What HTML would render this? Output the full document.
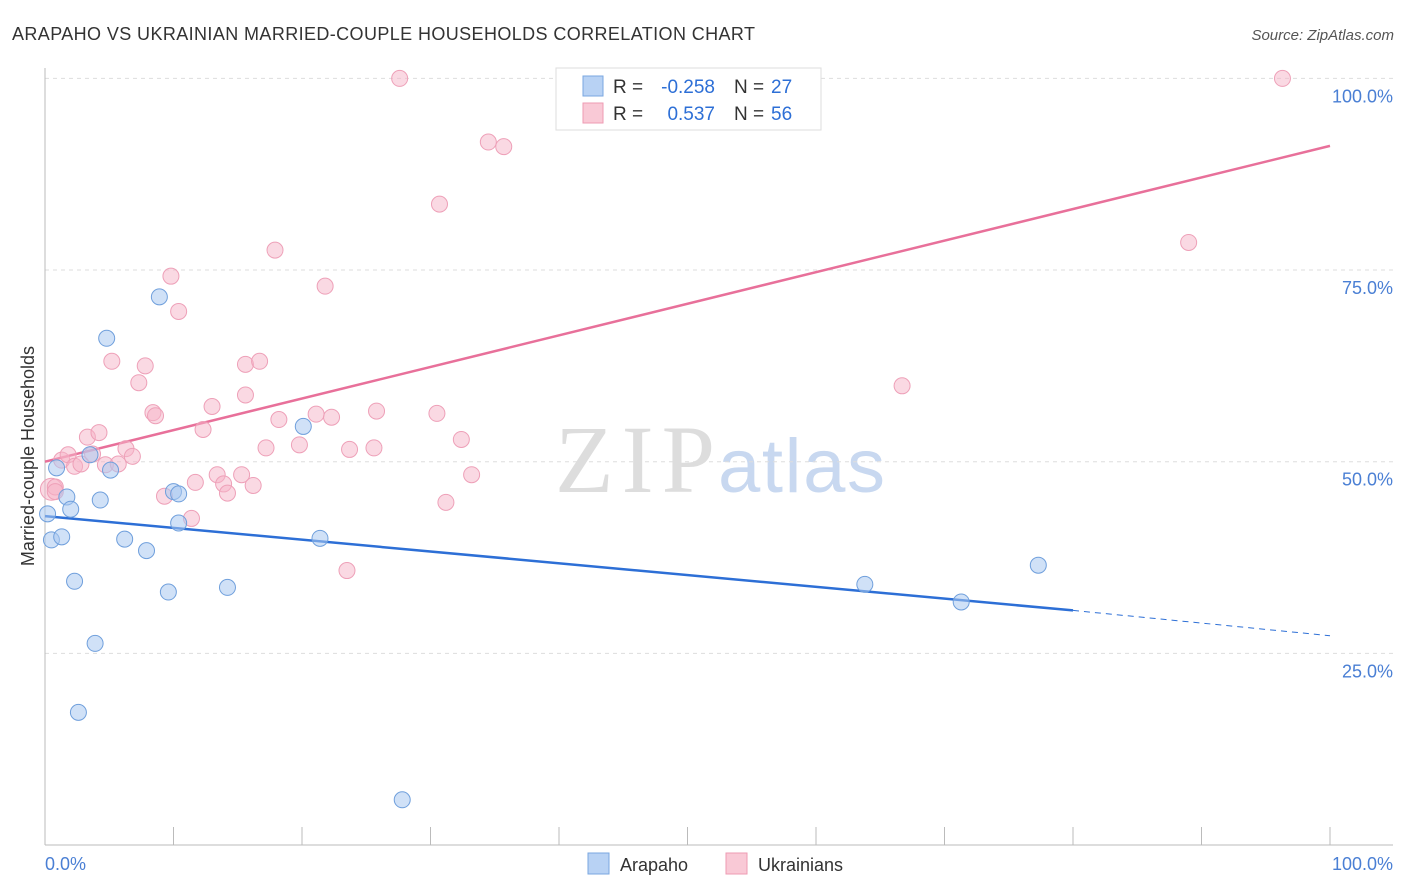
<!DOCTYPE html>
<html><head><meta charset="utf-8"><style>
body{margin:0;background:#fff;font-family:"Liberation Sans",sans-serif}
svg{display:block}
</style></head><body>
<svg width="1406" height="892">
<text x="12" y="40" font-size="18" fill="#333" textLength="743">ARAPAHO VS UKRAINIAN MARRIED-COUPLE HOUSEHOLDS CORRELATION CHART</text>
<text x="1394" y="40" font-size="15" fill="#555" font-style="italic" text-anchor="end">Source: ZipAtlas.com</text>
<text x="555" y="492" font-size="96" fill="#ddd" textLength="160" font-family="Liberation Serif">ZIP</text>
<text x="718" y="492" font-size="76" fill="#c8d8f0" textLength="167">atlas</text>
<g id="grid"></g>
<g id="axes"></g>
<text transform="translate(34,456) rotate(-90)" font-size="18" fill="#333" text-anchor="middle">Married-couple Households</text>
<text x="45" y="870" font-size="18" fill="#4a7fd4">0.0%</text>
<text x="1393" y="870" font-size="18" fill="#4a7fd4" text-anchor="end">100.0%</text>
<g id="trend"></g>
<g id="pts"></g>
<g>
<rect x="556" y="68" width="265" height="62" fill="#fff" stroke="#ddd"/>
<rect x="583" y="76" width="20" height="20" fill="#b8d2f4" stroke="#7aa7e0"/>
<rect x="583" y="103" width="20" height="20" fill="#f9c9d6" stroke="#ee9bb3"/>
<text x="613" y="93" font-size="19" fill="#333">R =</text>
<text x="715" y="93" font-size="19" fill="#2d6fd6" text-anchor="end">-0.258</text>
<text x="734" y="93" font-size="19" fill="#333">N =</text>
<text x="771" y="93" font-size="19" fill="#2d6fd6">27</text>
<text x="613" y="120" font-size="19" fill="#333">R =</text>
<text x="715" y="120" font-size="19" fill="#2d6fd6" text-anchor="end">0.537</text>
<text x="734" y="120" font-size="19" fill="#333">N =</text>
<text x="771" y="120" font-size="19" fill="#2d6fd6">56</text>
</g>
<g>
<rect x="588" y="853" width="21" height="21" fill="#b8d2f4" stroke="#7aa7e0"/>
<text x="620" y="871" font-size="18" fill="#333">Arapaho</text>
<rect x="726" y="853" width="21" height="21" fill="#f9c9d6" stroke="#ee9bb3"/>
<text x="758" y="871" font-size="18" fill="#333">Ukrainians</text>
</g>
</svg>
<script>
const yTicks=[25,50,75,100];
const blueX=[0.2,0.5,0.9,1.3,1.7,2.0,2.3,2.6,3.5,3.9,4.3,4.8,5.1,6.2,7.9,8.9,9.6,10.0,10.4,10.4,14.2,20.1,21.4,27.8,63.8,71.3,77.3];
const blueY=[43.2,39.8,49.2,40.2,45.4,43.8,34.4,17.3,50.9,26.3,45.0,66.1,48.9,39.9,38.4,71.5,33.0,46.1,45.8,42.0,33.6,54.6,40.0,5.9,34.0,31.7,36.5];
const pinkX=[0.5,0.8,1.3,1.8,2.3,2.8,3.3,3.7,4.2,4.7,5.2,5.7,6.3,6.8,7.3,7.8,8.4,8.6,9.3,9.8,10.4,11.4,11.7,12.3,13.0,13.4,13.9,14.2,15.3,15.6,16.2,15.6,16.7,17.2,17.9,18.2,19.8,21.1,21.8,22.3,23.5,23.7,25.6,25.8,27.6,30.5,30.7,31.2,32.4,33.2,34.5,35.7,66.7,89.0,96.3,0.8];
const pinkY=[46.4,46.7,50.2,50.9,49.4,49.7,53.2,51.0,53.8,49.6,63.1,49.7,51.7,50.7,60.3,62.5,56.4,56.0,45.5,74.2,69.6,42.6,47.3,54.2,57.2,48.3,47.1,45.9,48.3,62.7,46.9,58.7,63.1,51.8,77.6,55.5,52.2,56.2,72.9,55.8,35.8,51.6,51.8,56.6,100,56.3,83.6,44.7,52.9,48.3,91.7,91.1,59.9,78.6,100,46.1];
const blueTrend=[42.9,30.6,27.3]; // at x=0, 80, 100
const pinkTrend=[50.0,91.2]; // at x=0, 100
const X=v=>45+v*12.85, Y=v=>845-v*7.666;
const NS='http://www.w3.org/2000/svg';
function mk(t,a,p){const e=document.createElementNS(NS,t);for(const k in a)e.setAttribute(k,a[k]);p.appendChild(e);return e;}
const grid=document.getElementById('grid'),axes=document.getElementById('axes');
yTicks.forEach(t=>{
 const l=mk('line',{x1:45,x2:1393,y1:Y(t),y2:Y(t),stroke:'#ddd','stroke-dasharray':'4,4'},grid);
 
 
 const tx=mk('text',{x:1393,y:Y(t)+24,'font-size':18,fill:'#4a7fd4','text-anchor':'end'},grid);
 tx.textContent=t.toFixed(1)+'%';
 
 
});
mk('line',{x1:45,x2:45,y1:68,y2:845,stroke:'#bbb'},axes);
mk('line',{x1:45,x2:1393,y1:845,y2:845,stroke:'#bbb'},axes);
for(let i=1;i<=10;i++){mk('line',{x1:X(i*10),x2:X(i*10),y1:827,y2:845,stroke:'#bbb'},axes);}
const tr=document.getElementById('trend');
let a=mk('line',{x1:X(0),y1:Y(blueTrend[0]),x2:X(80),y2:Y(blueTrend[1]),stroke:'#2d6fd6','stroke-width':2.5},tr);


a=mk('line',{x1:X(80),y1:Y(blueTrend[1]),x2:X(100),y2:Y(blueTrend[2]),stroke:'#2d6fd6','stroke-width':1,'stroke-dasharray':'6,5'},tr);


a=mk('line',{x1:X(0),y1:Y(pinkTrend[0]),x2:X(100),y2:Y(pinkTrend[1]),stroke:'#e8709a','stroke-width':2.5},tr);


const pts=document.getElementById('pts');
pinkX.forEach((x,i)=>{
 const c=mk('circle',{cx:X(x),cy:Y(pinkY[i]),r:i===0?11:8,fill:'rgba(246,180,200,0.5)',stroke:'#eea0b8','stroke-width':1},pts);
 
 
});
blueX.forEach((x,i)=>{
 const c=mk('circle',{cx:X(x),cy:Y(blueY[i]),r:8,fill:'rgba(170,200,240,0.55)',stroke:'#6f9fdc','stroke-width':1},pts);
 
 
});
</script>
</body></html>
